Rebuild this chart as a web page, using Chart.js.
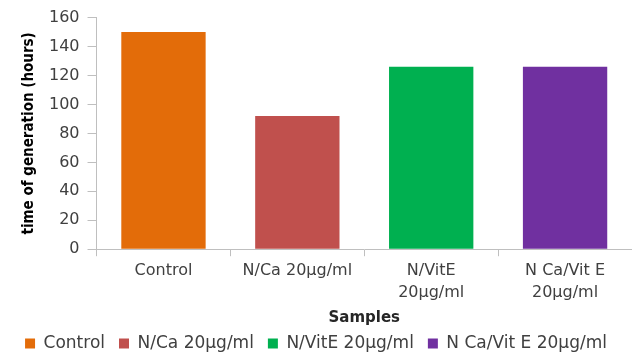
<!DOCTYPE html>
<html>
<head>
<meta charset="utf-8">
<script src="https://cdn.jsdelivr.net/npm/chart.js@4"></script>
<style>
  html, body { margin: 0; padding: 0; background: #ffffff; }
  #wrap { width: 632px; height: 354px; }
</style>
</head>
<body>
<div id="wrap"><canvas id="c" width="632" height="354"></canvas></div>
<script>
// Generation time per sample (hours)
const categories = ["Control", "N/Ca 20µg/ml", "N/VitE 20µg/ml", "N Ca/Vit E 20µg/ml"];
const axisLabels = [["Control"], ["N/Ca 20µg/ml"], ["N/VitE", "20µg/ml"], ["N Ca/Vit E", "20µg/ml"]];
const generationHours = [150, 92, 126, 126];
const barColors = ["#e36c09", "#c0504d", "#00b050", "#7030a0"];
const yTicks = [0, 20, 40, 60, 80, 100, 120, 140, 160];

const axisGrey = "#bfbfbf";
const textGrey = "#404040";
const sans = "'DejaVu Sans', sans-serif";

new Chart(document.getElementById("c"), {
  type: "bar",
  data: {
    labels: axisLabels,
    datasets: [{
      data: generationHours,
      backgroundColor: barColors,
      borderWidth: 0,
      categoryPercentage: 1.0,
      barPercentage: 0.63
    }]
  },
  options: {
    responsive: false,
    animation: false,
    layout: { padding: { left: 0, right: 0, top: 7, bottom: -8 } },
    plugins: {
      tooltip: { enabled: false },
      legend: {
        position: "bottom",
        labels: {
          font: { family: sans, size: 17 },
          color: textGrey,
          boxWidth: 10,
          boxHeight: 10,
          padding: 14,
          generateLabels: () => categories.map((name, i) => ({
            text: name,
            fillStyle: barColors[i],
            strokeStyle: barColors[i],
            lineWidth: 0,
            fontColor: textGrey,
            index: i
          }))
        }
      }
    },
    scales: {
      x: {
        grid: {
          display: true,
          drawOnChartArea: false,
          offset: true,
          tickLength: 7,
          color: axisGrey
        },
        border: { color: axisGrey, width: 1 },
        ticks: {
          font: { family: sans, size: 16, lineHeight: 1.4 },
          color: textGrey,
          maxRotation: 0,
          autoSkip: false,
          padding: 3
        },
        title: {
          display: true,
          text: "Samples",
          font: { family: sans, size: 15, weight: "bold" },
          color: "#262626",
          padding: { top: 2, bottom: -6 }
        }
      },
      y: {
        min: 0,
        max: 160,
        afterBuildTicks: (axis) => { axis.ticks = yTicks.map(v => ({ value: v })); },
        grid: {
          display: true,
          drawOnChartArea: false,
          tickLength: 9,
          color: axisGrey
        },
        border: { color: axisGrey, width: 1 },
        ticks: {
          font: { family: sans, size: 16 },
          color: textGrey,
          padding: 8
        },
        title: {
          display: true,
          text: "time of generation (hours)",
          font: { family: "'DejaVu Sans Condensed', 'Liberation Sans', sans-serif", size: 15, weight: "bold" },
          color: "#000000",
          padding: { top: 20, bottom: 3 }
        }
      }
    }
  }
});
</script>
</body>
</html>
